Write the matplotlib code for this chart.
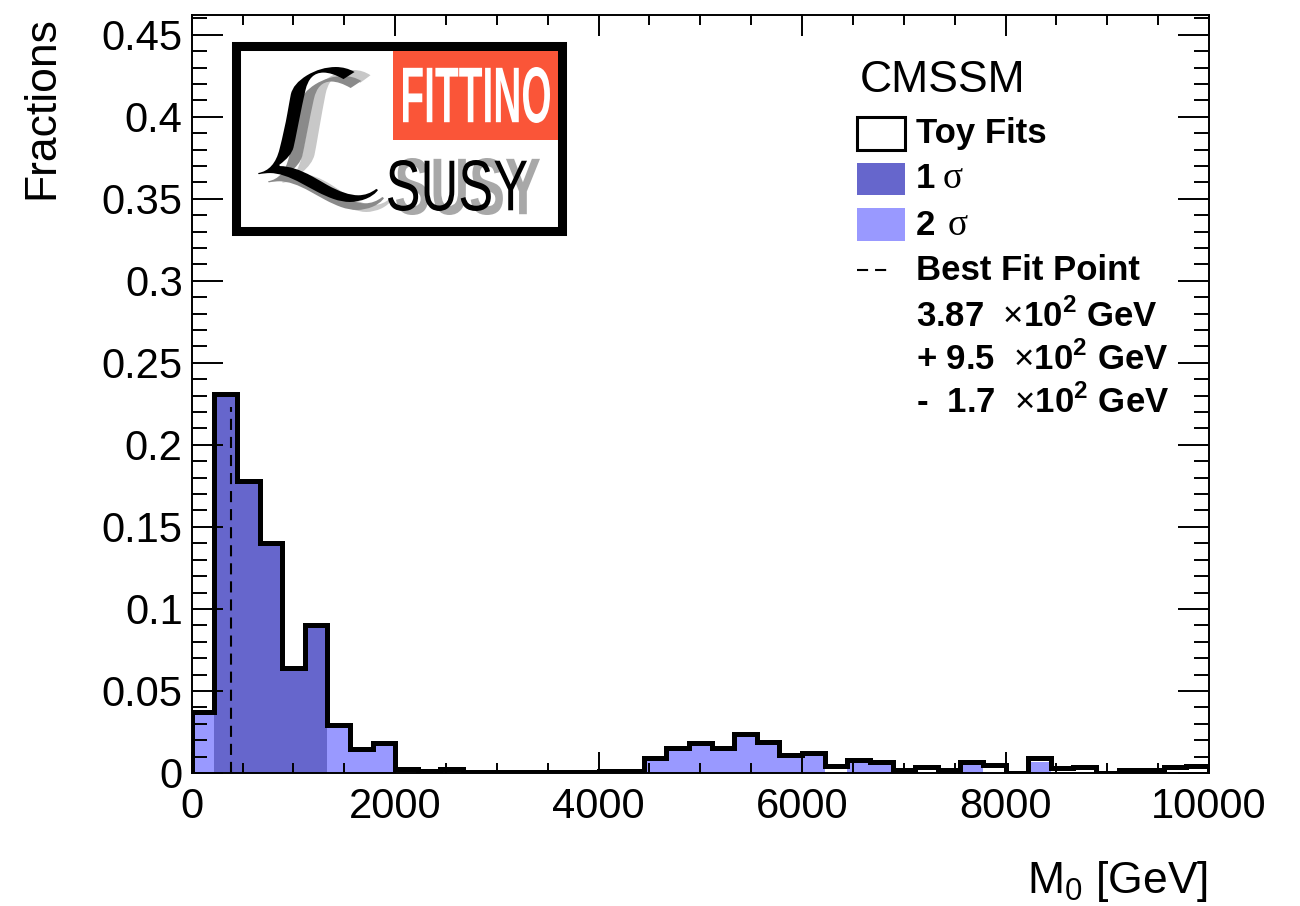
import numpy as np
import matplotlib
matplotlib.use("Agg")
import matplotlib.pyplot as plt
from matplotlib.patches import Rectangle, PathPatch
from matplotlib.textpath import TextPath
from matplotlib.font_manager import FontProperties
from matplotlib.transforms import Affine2D
from matplotlib.ticker import MultipleLocator, FuncFormatter

plt.rcParams["font.family"] = ["Liberation Sans", "DejaVu Sans"]
plt.rcParams["mathtext.fontset"] = "custom"
plt.rcParams["mathtext.rm"] = "Liberation Sans"
plt.rcParams["mathtext.bf"] = "Liberation Sans:bold"
plt.rcParams["lines.scale_dashes"] = False

# ── data: 45 bins of M0 from 0 to 10000 GeV ─────────────────────────────────
n_bins = 45
m0_range = (0, 10000)
toy_fits = [0.037, 0.231, 0.178, 0.140, 0.064, 0.090, 0.029, 0.0145, 0.0185,
            0.0026, 0.0015, 0.0025, 0.0004, 0.0004, 0.0004, 0.0004, 0.0004,
            0.0004, 0.0015, 0.0015, 0.009, 0.015, 0.018, 0.015, 0.024, 0.019,
            0.011, 0.012, 0.0043, 0.008, 0.007, 0.0018, 0.0035, 0.0018,
            0.0065, 0.005, 0.0003, 0.009, 0.0033, 0.0038, 0.0003, 0.0018,
            0.0018, 0.0035, 0.0045]
# bins inside the 1 sigma / 2 sigma regions (fill height per bin)
sigma1 = [0, 0.231, 0.178, 0.140, 0.064, 0.090] + [0] * 39
sigma2 = ([0.037, 0, 0, 0, 0, 0, 0.029, 0.0145, 0.0185] + [0] * 11
          + [0.009, 0.015, 0.018, 0.015, 0.024, 0.019, 0.011, 0.012, 0,
             0.006, 0.006, 0, 0, 0, 0.005, 0, 0, 0.007] + [0] * 7)
best_fit = 387.0
best_fit_top = 0.223

edges = np.linspace(m0_range[0], m0_range[1], n_bins + 1)

DARK = "#6666cc"
LIGHT = "#9999ff"
RED = "#fa5538"

W, H = 1300, 906
fig = plt.figure(figsize=(W / 100, H / 100), dpi=100)
ax = fig.add_axes([191.7 / W, (H - 773) / H, (1209 - 191.7) / W, (773 - 15) / H])

ax.stairs(sigma2, edges, fill=True, color=LIGHT, lw=0, zorder=1)
ax.stairs(sigma1, edges, fill=True, color=DARK, lw=0, zorder=1.1)
ax.stairs(toy_fits, edges, baseline=0, color="black", lw=3.6, zorder=1.5)
ax.vlines(best_fit, 0, best_fit_top, colors="black", lw=1.5,
          linestyles=[(0, (8, 5))], zorder=1.6)

ax.set_xlim(*m0_range)
ax.set_ylim(0, 0.462)
ax.xaxis.set_major_locator(MultipleLocator(2000))
ax.xaxis.set_minor_locator(MultipleLocator(500))
ax.yaxis.set_major_locator(MultipleLocator(0.05))
ax.yaxis.set_minor_locator(MultipleLocator(0.01))
ax.yaxis.set_major_formatter(FuncFormatter(lambda v, _: f"{v:g}"))
ax.tick_params(which="both", direction="in", top=True, right=True,
               width=1.4, labelsize=30, colors="black")
ax.tick_params(axis="x", which="major", length=15, pad=10)
ax.tick_params(axis="x", which="minor", length=7.2)
ax.tick_params(axis="y", which="major", length=22, pad=6.5)
ax.tick_params(axis="y", which="minor", length=10.8)
for s in ax.spines.values():
    s.set_linewidth(1.4)

fig.text(42 / W, 1 - 16 / H, "Fractions", rotation=90, ha="center", va="top",
         fontsize=32)
fig.text(1208 / W, 1 - 893 / H, r"M$_{\mathrm{0}}$ [GeV]", ha="right",
         va="baseline", fontsize=32)

# ── overlay in pixel coordinates for legend and logo ────────────────────────
ov = fig.add_axes([0, 0, 1, 1])
ov.set_xlim(0, W)
ov.set_ylim(H, 0)
ov.axis("off")
ov.set_zorder(5)

# legend
ov.text(860, 92, "CMSSM", fontsize=32, va="baseline")
ov.add_patch(Rectangle((857, 117), 48, 33, fc="white", ec="black", lw=2.2))
ov.add_patch(Rectangle((857, 163), 48, 32, fc=DARK, ec="none"))
ov.add_patch(Rectangle((857, 208), 48, 33, fc=LIGHT, ec="none"))
ov.plot([857, 893], [270, 270], color="black", lw=1.5, ls=(0, (8, 5)))
bold = dict(fontsize=25, fontweight="bold", va="baseline")
ov.text(916, 143, "Toy Fits", **bold)
ov.text(916, 188, "1", **bold)
ov.text(943, 188, "σ", fontsize=27, family="Liberation Serif", va="baseline")
ov.text(916, 235, "2", **bold)
ov.text(948, 235, "σ", fontsize=27, family="Liberation Serif", va="baseline")
ov.text(916, 280, "Best Fit Point", **bold)
ov.text(916, 327, r"3.87  $\times$10$^{\mathbf{2}}$ GeV", **bold)
ov.text(916, 370, r"+ 9.5  $\times$10$^{\mathbf{2}}$ GeV", **bold)
ov.text(916, 413, r"-  1.7  $\times$10$^{\mathbf{2}}$ GeV", **bold)


def fit_text(s, box, color, prop, zorder=2):
    tp = TextPath((0, 0), s, size=100, prop=prop)
    ext = tp.get_extents()
    x0, y0, x1, y1 = box
    tr = (Affine2D().translate(-ext.x0, -ext.y0)
          .scale((x1 - x0) / ext.width, -(y1 - y0) / ext.height)
          .translate(x0, y1))
    ov.add_patch(PathPatch(tr.transform_path(tp), fc=color, ec="none",
                           zorder=zorder))


# logo
ov.add_patch(Rectangle((236, 46), 326, 185, fc="white", ec="black", lw=6.5,
                       zorder=1))
ov.add_patch(Rectangle((393, 51), 165, 89, fc=RED, ec="none", zorder=1.5))
sans = FontProperties(family="Liberation Sans")
sans_b = FontProperties(family="Liberation Sans", weight="bold")
fit_text("FITTINO", (403, 67, 550, 123), "white", sans_b)
with plt.rc_context({"mathtext.fontset": "cm"}):
    fit_text(r"$\mathcal{L}$", (282, 70, 392, 212), "#c8c8c8", sans, 1.6)
    fit_text(r"$\mathcal{L}$", (268, 76, 384, 210), "#8a8a8a", sans, 1.7)
    fit_text(r"$\mathcal{L}$", (258, 67, 378, 202), "black", sans, 1.8)
fit_text("SUSY", (396, 158, 540, 215), "#a8a8a8", sans_b, 1.7)
fit_text("SUSY", (388, 160, 527, 211), "black", sans, 1.8)

fig.savefig("out.png", dpi=100)
